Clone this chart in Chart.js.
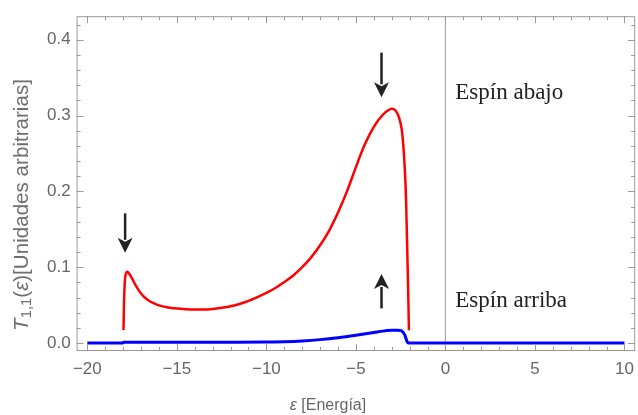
<!DOCTYPE html>
<html>
<head>
<meta charset="utf-8">
<script src="https://cdn.jsdelivr.net/npm/chart.js@4"></script>
<style>
  html, body { margin: 0; padding: 0; background: #fff; overflow: hidden; }
</style>
</head>
<body>
<canvas id="chart" width="642" height="415"></canvas>
<script>
// spin down (red)
const redX = [-17.98, -17.95, -17.9, -17.84, -17.77, -17.65, -17.5, -17.3, -17.1, -16.9, -16.6, -16.3, -16.0, -15.5, -15.0, -14.5, -14.0, -13.5, -13.0, -12.5, -12.0, -11.5, -11.0, -10.5, -10.0, -9.5, -9.0, -8.5, -8.0, -7.5, -7.0, -6.5, -6.0, -5.5, -5.0, -4.5, -4.0, -3.5, -3.2, -3.0, -2.8, -2.6, -2.45, -2.35, -2.27, -2.2, -2.15, -2.1, -2.06, -2.04];
const redY = [0.017, 0.055, 0.083, 0.092, 0.094, 0.091, 0.085, 0.076, 0.0685, 0.0625, 0.0565, 0.0525, 0.0497, 0.047, 0.0455, 0.0447, 0.0443, 0.0443, 0.045, 0.0465, 0.0485, 0.0515, 0.0555, 0.0605, 0.066, 0.0725, 0.0805, 0.089, 0.1, 0.113, 0.129, 0.148, 0.172, 0.2, 0.232, 0.262, 0.285, 0.301, 0.307, 0.309, 0.307, 0.298, 0.283, 0.26, 0.23, 0.19, 0.14, 0.09, 0.045, 0.017];

// spin up (blue)
const blueX = [-20, -18.02, -17.98, -15, -12, -10, -9, -8, -7, -6, -5, -4, -3.5, -3, -2.7, -2.5, -2.38, -2.28, -2.2, -2.14, -2.08, 10];
const blueY = [0, 0, 0.0012, 0.0012, 0.0012, 0.0013, 0.0018, 0.0028, 0.0045, 0.007, 0.0102, 0.0138, 0.0157, 0.0168, 0.017, 0.0166, 0.0145, 0.011, 0.006, 0.002, 0, 0];

const xTicks = [-20, -15, -10, -5, 0, 5, 10];
const yTicks = [0.0, 0.1, 0.2, 0.3, 0.4];

// arrows: x, tail y, tip y (data units)
const arrows = [
  { x: -17.89, from: 0.171, to: 0.119 },
  { x: -3.57, from: 0.383, to: 0.324 },
  { x: -3.57, from: 0.0457, to: 0.091 }
];
const notes = [
  { x: 0.55, y: 0.322, text: "Espín abajo" },
  { x: 0.55, y: 0.047, text: "Espín arriba" }
];

const tickColor = "#666";
const frameColor = "#9a9a9a";
const sans = "'Liberation Sans', Arial, sans-serif";

const toPoints = (xs, ys) => xs.map((x, i) => ({ x: x, y: ys[i] }));

const framePlugin = {
  id: "frame",
  beforeDatasetsDraw(chart) {
    const { ctx, chartArea: a, scales } = chart;
    const x0 = scales.x.getPixelForValue(0);
    ctx.save();
    ctx.strokeStyle = "#aaa";
    ctx.lineWidth = 1.2;
    ctx.beginPath();
    ctx.moveTo(x0, a.top);
    ctx.lineTo(x0, a.bottom);
    ctx.stroke();
    ctx.restore();
  },
  afterDatasetsDraw(chart) {
    const { ctx, chartArea: a, scales } = chart;
    const sx = scales.x, sy = scales.y;
    ctx.save();
    ctx.strokeStyle = frameColor;
    ctx.lineWidth = 1;
    ctx.strokeRect(a.left + 0.5, a.top + 0.5, a.right - a.left - 1, a.bottom - a.top - 1);
    ctx.beginPath();
    for (let v = -20; v <= 10; v++) {
      const len = v % 5 === 0 ? 7 : 4;
      const px = Math.round(sx.getPixelForValue(v)) + 0.5;
      ctx.moveTo(px, a.bottom); ctx.lineTo(px, a.bottom - len);
      ctx.moveTo(px, a.top); ctx.lineTo(px, a.top + len);
    }
    for (let k = 0; k <= 21; k++) {
      const v = k * 0.02;
      const len = k % 5 === 0 ? 7 : 4;
      const py = Math.round(sy.getPixelForValue(v)) + 0.5;
      ctx.moveTo(a.left, py); ctx.lineTo(a.left + len, py);
      ctx.moveTo(a.right, py); ctx.lineTo(a.right - len, py);
    }
    ctx.stroke();

    // arrows
    ctx.strokeStyle = "#222";
    ctx.fillStyle = "#222";
    ctx.lineWidth = 2.5;
    arrows.forEach(ar => {
      const px = sx.getPixelForValue(ar.x);
      const y0 = sy.getPixelForValue(ar.from);
      const y1 = sy.getPixelForValue(ar.to);
      const dir = y1 > y0 ? 1 : -1;
      const head = 15, half = 7.5;
      ctx.beginPath();
      ctx.moveTo(px, y0);
      ctx.lineTo(px, y1 - dir * (head - 2));
      ctx.stroke();
      ctx.beginPath();
      ctx.moveTo(px, y1);
      ctx.lineTo(px - half, y1 - dir * head);
      ctx.lineTo(px, y1 - dir * (head - 4));
      ctx.lineTo(px + half, y1 - dir * head);
      ctx.closePath();
      ctx.fill();
    });

    // notes
    ctx.font = "23px 'Liberation Serif', 'DejaVu Serif', serif";
    ctx.fillStyle = "#222";
    ctx.textAlign = "left";
    ctx.textBaseline = "alphabetic";
    notes.forEach(n => {
      ctx.fillText(n.text, sx.getPixelForValue(n.x), sy.getPixelForValue(n.y));
    });

    // x title
    ctx.fillStyle = "#666";
    ctx.textBaseline = "middle";
    ctx.textAlign = "left";
    const t1 = "ε", t2 = " [Energía]";
    ctx.font = "italic 16px " + sans;
    const w1 = ctx.measureText(t1).width;
    ctx.font = "16px " + sans;
    const w2 = ctx.measureText(t2).width;
    const xs = 328 - (w1 + w2) / 2;
    ctx.font = "italic 16px " + sans;
    ctx.fillText(t1, xs, 406);
    ctx.font = "16px " + sans;
    ctx.fillText(t2, xs + w1, 406);

    // y title, rotated, sized to span the same length as the reference
    const parts = [
      { t: "T", s: 1, it: true, dy: 0 },
      { t: "1,1", s: 0.72, it: false, dy: 0.25 },
      { t: "(", s: 1, it: false, dy: 0 },
      { t: "ε", s: 1, it: true, dy: 0 },
      { t: ")[Unidades arbitrarias]", s: 1, it: false, dy: 0 }
    ];
    const fontFor = (p, size) => (p.it ? "italic " : "") + (p.s * size).toFixed(2) + "px " + sans;
    let total = 0;
    parts.forEach(p => { ctx.font = fontFor(p, 10); total += ctx.measureText(p.t).width; });
    const size = 10 * 252 / total;
    let widths = parts.map(p => { ctx.font = fontFor(p, size); return ctx.measureText(p.t).width; });
    const full = widths.reduce((s, w) => s + w, 0);
    ctx.fillStyle = "#6e6e6e";
    ctx.translate(22, 205);
    ctx.rotate(-Math.PI / 2);
    let cx = -full / 2;
    parts.forEach((p, i) => {
      ctx.font = fontFor(p, size);
      ctx.fillText(p.t, cx, p.dy * size);
      cx += widths[i];
    });
    ctx.restore();
  }
};

new Chart(document.getElementById("chart").getContext("2d"), {
  type: "line",
  data: {
    datasets: [
      {
        label: "Espín arriba",
        data: toPoints(blueX, blueY),
        borderColor: "#0000ff",
        borderWidth: 3,
        pointRadius: 0,
        cubicInterpolationMode: "monotone"
      },
      {
        label: "Espín abajo",
        data: toPoints(redX, redY),
        borderColor: "#ff0000",
        borderWidth: 2.5,
        pointRadius: 0,
        cubicInterpolationMode: "monotone"
      }
    ]
  },
  options: {
    responsive: false,
    animation: false,
    layout: { padding: { top: 13, right: 3.8, left: 0, bottom: 0 } },
    plugins: { legend: { display: false }, tooltip: { enabled: false } },
    scales: {
      x: {
        type: "linear",
        min: -20.6,
        max: 10.6,
        afterBuildTicks: s => { s.ticks = xTicks.map(v => ({ value: v })); },
        afterFit: s => { s.height = 64; },
        grid: { display: false, drawTicks: false },
        border: { display: false },
        ticks: {
          color: tickColor,
          padding: 8,
          maxRotation: 0,
          autoSkip: false,
          font: { family: sans, size: 17 },
          callback: v => String(v).replace("-", "\u2212")
        }
      },
      y: {
        type: "linear",
        min: -0.0105,
        max: 0.431,
        afterBuildTicks: s => { s.ticks = yTicks.map(v => ({ value: v })); },
        afterFit: s => { s.width = 76.6; },
        grid: { display: false, drawTicks: false },
        border: { display: false },
        ticks: {
          color: tickColor,
          padding: 6,
          autoSkip: false,
          font: { family: sans, size: 17 },
          callback: v => v.toFixed(1)
        }
      }
    }
  },
  plugins: [framePlugin]
});
</script>
</body>
</html>
